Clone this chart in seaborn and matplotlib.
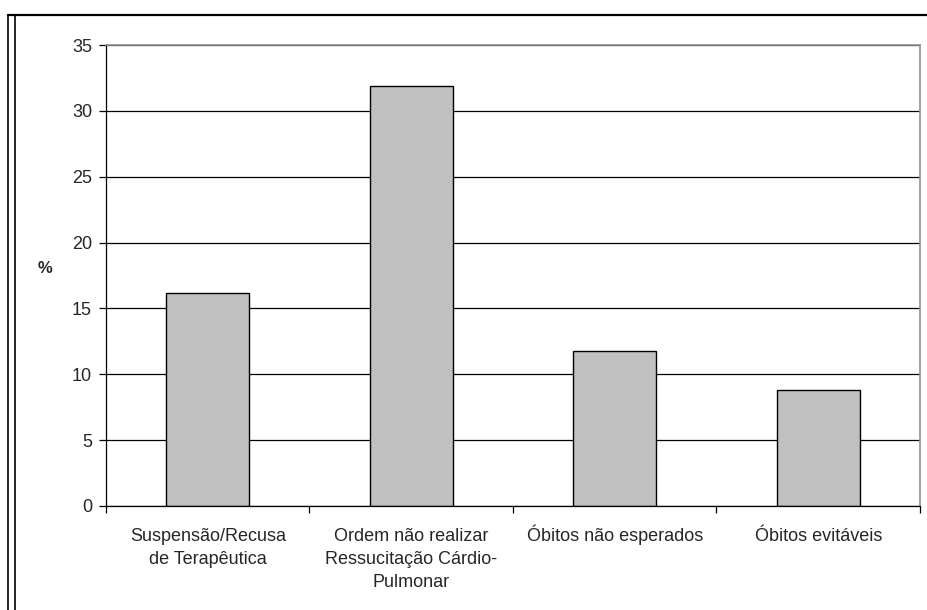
import matplotlib
matplotlib.use("Agg")
import matplotlib.pyplot as plt
from matplotlib.lines import Line2D
import seaborn as sns
import pandas as pd

categories = ['Suspensão/Recusa\nde Terapêutica',
              'Ordem não realizar\nRessucitação Cárdio-\nPulmonar',
              'Óbitos não esperados',
              'Óbitos evitáveis']
values = [16.2, 31.9, 11.8, 8.8]
y_ticks = [0, 5, 10, 15, 20, 25, 30, 35]

data = pd.DataFrame({'cat': categories, 'pct': values})

sns.set_style('white')
plt.rcParams['font.family'] = ['Liberation Sans', 'DejaVu Sans']

W, H = 928, 610
fig = plt.figure(figsize=(W / 100, H / 100), dpi=100)
ax = fig.add_axes([106 / W, 1 - 506 / H, (920 - 106) / W, (506 - 45) / H])
ax_h = 506 - 45

sns.barplot(data=data, x='cat', y='pct', ax=ax, color='#c0c0c0',
            edgecolor='black', linewidth=1, width=0.41, saturation=1)

ax.set_ylim(0, 35)
ax.set_xlim(-0.5, len(categories) - 0.5)
ax.set_yticks(y_ticks)
ax.yaxis.grid(True, color='black', linewidth=0.9)
ax.set_axisbelow(True)

# category ticks sit between bars, Excel style
ax.set_xticks([i + 0.5 for i in range(-1, len(categories))])
ax.set_xticklabels([''] * (len(categories) + 1))
ax.tick_params(axis='x', length=5, width=0.9, color='black',
               direction='out', bottom=True)
ax.tick_params(axis='y', length=5, width=0.9, color='black', direction='out',
               left=True, labelsize=13, pad=5)

# category labels, one text per line so every first line shares a baseline
for i, cat in enumerate(categories):
    for j, line in enumerate(cat.split('\n')):
        ax.text(i, -(35 + 23 * j) / ax_h, line, transform=ax.get_xaxis_transform(),
                ha='center', va='baseline', fontsize=13)

ax.set_xlabel('')
ax.set_ylabel('%', rotation=0, fontsize=12, fontweight='bold', va='center',
              ha='center')
ax.yaxis.set_label_coords(-0.075, 0.516)

for side in ['left', 'bottom']:
    ax.spines[side].set_color('black')
    ax.spines[side].set_linewidth(0.9)
for side in ['top', 'right']:
    ax.spines[side].set_color('#909090')
    ax.spines[side].set_linewidth(1.2)

# outer frame of the chart object
fig.add_artist(Line2D([8 / W, 1], [1 - 14.5 / H] * 2, transform=fig.transFigure,
                      color='black', linewidth=1.6))
for x in (8.5, 15.5):
    fig.add_artist(Line2D([x / W] * 2, [0, 1 - 14.5 / H], transform=fig.transFigure,
                          color='black', linewidth=1.2))

fig.savefig('out.png', dpi=100)
